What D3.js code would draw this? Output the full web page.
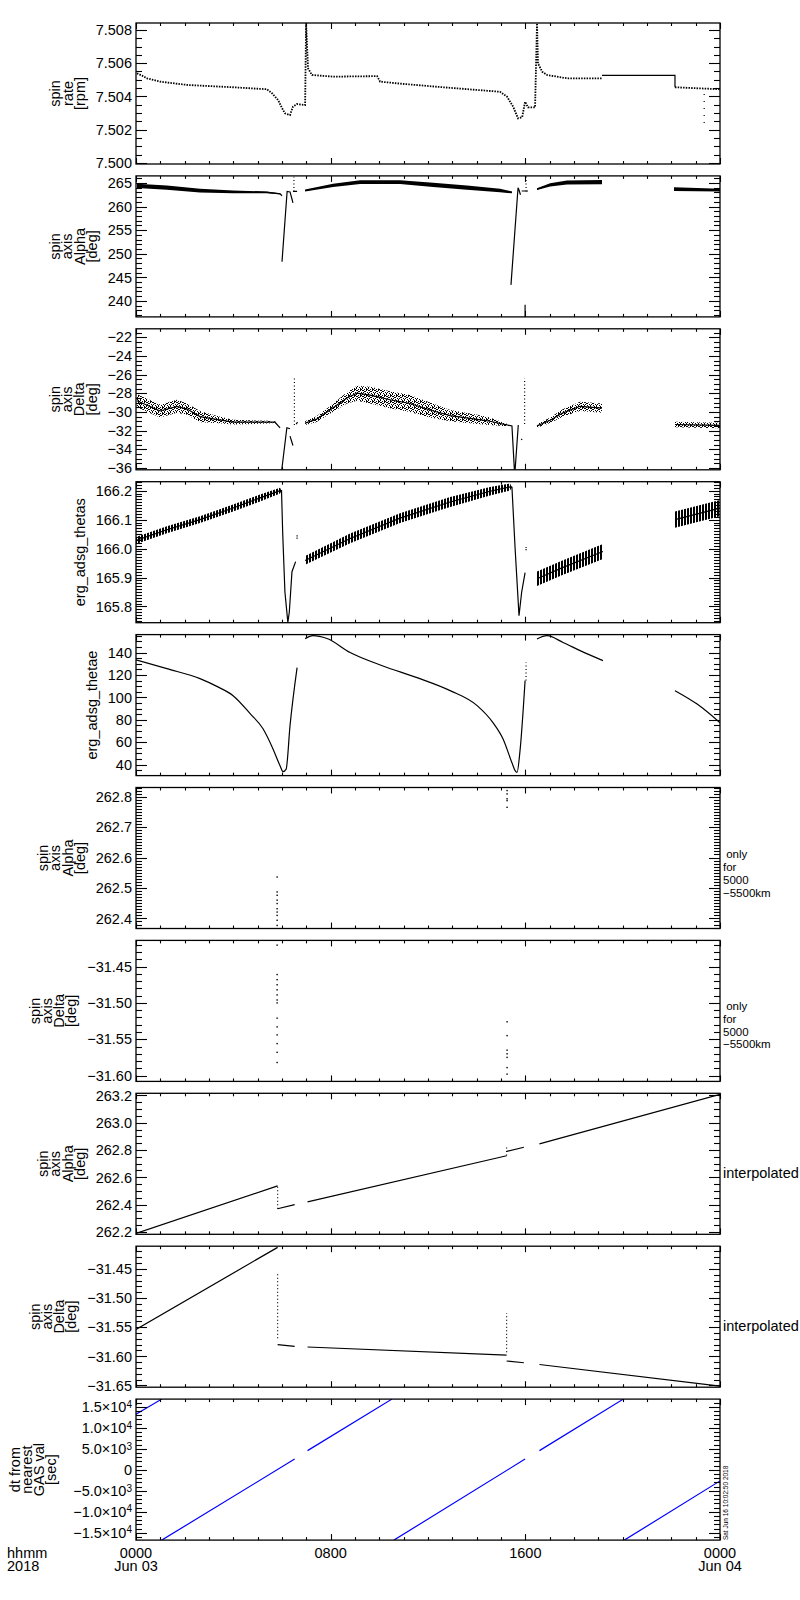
<!DOCTYPE html>
<html>
<head>
<meta charset="utf-8">
<script src="https://cdn.jsdelivr.net/npm/d3@7"></script>
<style>
  body { margin: 0; background: #fff; }
  svg { display: block; font-family: "Liberation Sans", Arial, sans-serif; }
</style>
</head>
<body>
<script>
// ---- time axis (hours since 2018-06-03 00:00) ----
const timeTicks  = [0, 8, 16, 24];
const timeLabels = ['0000', '0800', '1600', '0000'];
const dateLabels = ['Jun 03', '', '', 'Jun 04'];

// ---- panel 1: spin rate [rpm] ----
const spinRate = [[0.04,7.50539],[0.25,7.50525],[0.45,7.50509],[0.99,7.50489],[2.10,7.50469],[3.99,7.50455],
  [5.38,7.50443],[5.59,7.50419],[5.84,7.50378],[6.00,7.50330],[6.12,7.50298],[6.33,7.50288],[6.45,7.50338],
  [6.62,7.50354],[6.95,7.50348],[6.99,7.50840],[7.07,7.50569],[7.23,7.50529],[8.10,7.50519],[9.91,7.50522],
  [10.03,7.50489],[10.85,7.50477],[12.62,7.50455],[14.96,7.50428],[15.25,7.50398],[15.50,7.50338],
  [15.70,7.50268],[15.87,7.50275],[15.99,7.50368],[16.11,7.50334],[16.40,7.50334],[16.48,7.50840],
  [16.52,7.50599],[16.69,7.50549],[16.89,7.50529],[17.71,7.50509],[19.15,7.50509]];
const spinRateHold = [[19.15,7.50527],[22.15,7.50527],[22.15,7.50455]];
const spinRateLate = [[22.15,7.50455],[24.00,7.50443]];
const spinRateColumns = [[23.35,7.50240,7.50420]];

// ---- panel 2: spin axis alpha [deg]  (time, value, scatter half-width) ----
const spinAlpha = [[0.04,264.4,0.45],[1.27,264.0,0.45],[2.63,263.4,0.4],[3.99,263.1,0.3],[5.38,263.0,0.2],
  [5.92,262.7,0.1],[6.00,262.3,0],null,
  [6.00,248.3,0],[6.21,263.2,0],[6.33,263.1,0],[6.41,261.6,0],[6.45,260.8,0],null,
  [6.45,263.2,0],[6.62,263.2,0],null,
  [6.95,263.4,0.2],[8.10,264.5,0.35],[9.21,265.2,0.4],[10.85,265.2,0.4],[12.21,264.6,0.45],[13.60,264.0,0.45],
  [14.96,263.4,0.35],[15.45,263.0,0.2],null,
  [15.41,243.4,0],[15.70,264.0,0],[15.74,263.5,0],[15.80,262.5,0],null,
  [15.85,263.3,0],[16.11,263.3,0],null,
  [15.99,239.2,0],[15.99,236.6,0],null,
  [16.48,263.7,0.2],[17.02,264.6,0.35],[17.71,265.1,0.4],[19.15,265.2,0.45],null,
  [22.11,263.7,0.4],[24.00,263.5,0.3]];
const spinAlphaColumns = [[6.49,263.2,266.3],[16.03,263.2,266.5]];

// ---- panel 3: spin axis delta [deg] ----
const spinDelta = [[0.04,-28.8,0.7],[0.99,-29.9,0.7],[1.68,-29.4,0.7],[2.10,-29.7,0.6],[2.63,-30.5,0.6],
  [3.30,-30.8,0.4],[3.99,-31.1,0.25],[5.43,-31.1,0.15],[5.71,-31.1,0.1],[5.92,-31.7,0],null,
  [5.99,-36.2,0],[6.20,-31.7,0],[6.33,-31.8,0],null,
  [6.33,-32.6,0],[6.45,-33.6,0],null,
  [6.58,-31.3,0],[6.64,-31.1,0],null,
  [6.95,-31.2,0.2],[7.40,-30.8,0.3],[7.97,-29.8,0.4],[8.67,-28.5,0.6],[9.08,-28.0,0.8],[9.62,-28.2,0.9],
  [10.44,-28.7,0.9],[11.26,-29.1,0.9],[12.08,-29.8,0.8],[12.91,-30.4,0.6],[14.02,-30.8,0.5],[14.55,-31.0,0.4],
  [15.08,-31.3,0.2],[15.45,-31.5,0],[15.55,-36.2,0],null,
  [15.58,-36.2,0],[15.71,-31.4,0],null,
  [15.83,-32.9,0],[15.87,-33.0,0],null,
  [16.48,-31.5,0.2],[17.02,-30.9,0.3],[17.55,-30.1,0.4],[18.25,-29.4,0.5],[19.15,-29.6,0.5],null,
  [22.15,-31.35,0.3],[24.00,-31.45,0.3]];
const spinDeltaColumns = [[6.51,-31.4,-26.2],[15.97,-31.3,-26.4]];

// ---- panel 4: erg_adsg_thetas ----
const thetaS = [[0.00,166.028,0.012],[1.27,166.065,0.012],[2.63,166.100,0.012],[3.99,166.140,0.012],
  [5.10,166.175,0.012],[5.92,166.200,0.01],[5.98,166.200,0],[6.03,166.05,0],[6.12,165.85,0],[6.24,165.745,0],
  [6.30,165.78,0],[6.41,165.92,0],[6.56,165.955,0],null,
  [6.95,165.959,0.015],[8.80,166.035,0.017],[10.85,166.105,0.017],[12.91,166.161,0.017],[14.55,166.198,0.015],
  [15.37,166.213,0.012],[15.45,166.212,0],[15.58,166.00,0],[15.74,165.768,0],[15.85,165.85,0],[15.99,165.917,0],null,
  [16.48,165.896,0.025],[17.55,165.935,0.025],[19.19,165.990,0.026],null,
  [22.15,166.100,0.028],[24.00,166.140,0.028]];
const thetaSColumns = [[6.62,166.034,166.046],[16.03,165.994,166.006]];

// ---- panel 5: erg_adsg_thetae ----
const thetaE = [[0.00,133.5],[1.27,125.6],[2.63,116.7],[3.30,110.0],[3.99,101.5],[4.69,85.5],[5.22,72.0],
  [5.63,54.0],[5.92,39.0],[6.04,33.7],[6.17,36.0],[6.33,74.8],[6.62,126.5],null,
  [6.95,152.4],[7.27,155.1],[7.85,152.5],[8.80,140.0],[10.15,128.0],[11.55,117.6],[12.91,106.0],[14.02,92.6],
  [14.67,77.4],[15.08,63.0],[15.45,41.7],[15.58,34.6],[15.66,33.0],[15.78,52.0],[15.99,115.0],null,
  [16.48,152.0],[16.89,155.0],[17.55,149.0],[18.25,141.7],[19.19,132.8],null,
  [22.15,106.0],[23.06,94.0],[24.00,77.4]];
const thetaEColumns = [[16.03,115,131]];

// ---- panel 6: spin axis alpha, only for 5000-5500km ----
const onlyAlphaDots = [[5.80,262.536],[5.80,262.487],[5.80,262.476],[5.80,262.460],[5.80,262.449],[5.80,262.432],
  [5.80,262.421],[5.80,262.410],[5.80,262.394],[5.80,262.377],
  [15.25,262.820],[15.25,262.809],[15.25,262.793],[15.25,262.787],[15.25,262.765]];

// ---- panel 7: spin axis delta, only for 5000-5500km ----
const onlyDeltaDots = [[5.80,-31.4205],[5.80,-31.461],[5.80,-31.468],[5.80,-31.475],[5.80,-31.482],[5.80,-31.489],
  [5.80,-31.496],[5.80,-31.500],[5.80,-31.521],[5.80,-31.533],[5.80,-31.544],[5.80,-31.556],[5.80,-31.568],
  [5.80,-31.582],[15.25,-31.526],[15.25,-31.545],[15.25,-31.565],[15.25,-31.570],[15.25,-31.575],
  [15.25,-31.589],[15.25,-31.598]];

// ---- panel 8: spin axis alpha, interpolated ----
const interpAlpha = [[0.00,262.19],[5.82,262.537],null,[5.82,262.37],[6.52,262.40],null,[7.05,262.42],
  [15.23,262.758],null,[15.23,262.79],[15.94,262.82],null,[16.58,262.845],[24.00,263.207]];
const interpAlphaColumns = [[5.82,262.37,262.537],[15.23,262.76,262.83]];

// ---- panel 9: spin axis delta, interpolated ----
const interpDelta = [[0.00,-31.554],[5.82,-31.413],null,[5.82,-31.580],[6.52,-31.583],null,[7.05,-31.584],
  [15.23,-31.598],null,[15.23,-31.608],[15.94,-31.611],null,[16.58,-31.614],[24.00,-31.651]];
const interpDeltaColumns = [[5.82,-31.569,-31.457],[15.23,-31.593,-31.526]];

// ---- panel 10: dt from nearest GAS val [sec] ----
const gasDt = [[0.00,13240],[1.06,16850],null,[1.06,-16750],[6.52,2570],null,[7.05,4570],[10.52,16850],null,
  [10.60,-16750],[15.99,2570],null,[16.58,4570],[20.03,16850],null,[20.07,-16750],[24.00,-2640]];

const plotDate = 'Sat Jun 16 10:02:50 2018';

// ---- layout ----
const width = 800, height = 1600;
const plotLeft = 136, plotRight = 720;
const firstTop = 23, pitch = 152.9, panelH = 141;
const fontSize = 14.5;

const fmtSci = v => {
  if (v === 0) return ['0', null];
  const e = Math.floor(Math.log10(Math.abs(v)));
  const m = v / Math.pow(10, e);
  return [(m < 0 ? '\u2212' : '') + Math.abs(m).toFixed(1) + '\u00d710', String(e)];
};

const panels = [
  { title: ['spin', 'rate', '[rpm]'], domain: [7.49993, 7.50842], major: 0.002, minor: 0.0005, fmt: d3.format('.3f'),
    series: [{ data: spinRate, kind: 'dotted' }, { data: spinRateHold, kind: 'line' }, { data: spinRateLate, kind: 'dotted' }],
    columns: spinRateColumns, columnDash: '1,6' },
  { title: ['spin', 'axis', 'Alpha', '[deg]'], domain: [236.6, 266.5], major: 5, minor: 1, fmt: d3.format('d'),
    series: [{ data: spinAlpha, kind: 'band', fill: '#000' }], columns: spinAlphaColumns },
  { title: ['spin', 'axis', 'Delta', '[deg]'], domain: [-36.2, -21.1], major: 2, minor: 0.5, fmt: d3.format('d'),
    series: [{ data: spinDelta, kind: 'band', fill: 'url(#speck)' }], columns: spinDeltaColumns },
  { title: ['erg_adsg_thetas'], domain: [165.744, 166.231], major: 0.1, minor: 0.01, fmt: d3.format('.1f'),
    series: [{ data: thetaS, kind: 'band', fill: 'url(#hatch)' }], columns: thetaSColumns, columnDash: '1.2,1' },
  { title: ['erg_adsg_thetae'], domain: [30.2, 156], major: 20, minor: 5, fmt: d3.format('d'),
    series: [{ data: thetaE, kind: 'curve' }], columns: thetaEColumns },
  { title: ['spin', 'axis', 'Alpha', '[deg]'], domain: [262.367, 262.83], major: 0.1, minor: 0.01, fmt: d3.format('.1f'),
    dots: onlyAlphaDots, note: [' only', 'for', '5000', '\u22125500km'], noteDy: -4 },
  { title: ['spin', 'axis', 'Delta', '[deg]'], domain: [-31.608, -31.414], major: 0.05, minor: 0.01, fmt: d3.format('.2f'),
    dots: onlyDeltaDots, note: [' only', 'for', '5000', '\u22125500km'], noteDy: -5 },
  { title: ['spin', 'axis', 'Alpha', '[deg]'], domain: [262.183, 263.215], major: 0.2, minor: 0.05, fmt: d3.format('.1f'),
    series: [{ data: interpAlpha, kind: 'line' }], columns: interpAlphaColumns, note: ['interpolated'], noteDy: 9 },
  { title: ['spin', 'axis', 'Delta', '[deg]'], domain: [-31.653, -31.411], major: 0.05, minor: 0.01, fmt: d3.format('.2f'),
    series: [{ data: interpDelta, kind: 'line' }], columns: interpDeltaColumns, note: ['interpolated'], noteDy: 9 },
  { title: ['dt from', 'nearest', 'GAS val', '[sec]'], domain: [-16750, 16850], major: 5000, minor: 1000, sci: true,
    series: [{ data: gasDt, kind: 'line', color: '#0000ff' }], titleGap: 22 }
];

const svg = d3.select('body').append('svg')
  .attr('width', width)
  .attr('height', height)
  .style('font-size', fontSize + 'px');

svg.append('rect').attr('width', width).attr('height', height).attr('fill', '#fff');

// fill textures for the scattered bands
const defs = svg.append('defs');
const hatch = defs.append('pattern').attr('id', 'hatch')
  .attr('patternUnits', 'userSpaceOnUse').attr('width', 3).attr('height', 4);
hatch.append('rect').attr('width', 2).attr('height', 4).attr('fill', '#000');

const speck = defs.append('pattern').attr('id', 'speck')
  .attr('patternUnits', 'userSpaceOnUse').attr('width', 6).attr('height', 6);
[[0,0],[2,0],[4,1],[1,2],[3,2],[5,3],[0,4],[2,4],[4,5],[1,5],[3,0],[5,1],[2,3],[0,5]].forEach(p => {
  speck.append('rect').attr('x', p[0]).attr('y', p[1]).attr('width', 1).attr('height', 1).attr('fill', '#000');
});

const x = d3.scaleLinear().domain([0, 24]).range([plotLeft, plotRight]);

function tickValues(domain, step) {
  const lo = Math.ceil(domain[0] / step - 1e-6), hi = Math.floor(domain[1] / step + 1e-6);
  return d3.range(lo, hi + 1).map(k => +(k * step).toFixed(6));
}

panels.forEach((p, i) => {
  const top = firstTop + i * pitch, bottom = top + panelH;
  const y = d3.scaleLinear().domain(p.domain).range([bottom, top]);
  const g = svg.append('g').attr('class', 'panel');

  const clipId = 'clip' + i;
  defs.append('clipPath').attr('id', clipId)
    .append('rect').attr('x', plotLeft).attr('y', top).attr('width', plotRight - plotLeft).attr('height', panelH);
  const plot = g.append('g').attr('clip-path', `url(#${clipId})`);

  const line = d3.line().defined(d => d !== null).x(d => x(d[0])).y(d => y(d[1]));
  const area = d3.area().defined(d => d !== null).x(d => x(d[0]))
    .y0(d => y(d[1] - d[2])).y1(d => y(d[1] + d[2]));

  (p.series || []).forEach(s => {
    const color = s.color || '#000';
    if (s.kind === 'band') {
      plot.append('path').datum(s.data).attr('d', area).attr('fill', s.fill).attr('stroke', 'none');
    }
    const path = plot.append('path').datum(s.data)
      .attr('d', s.kind === 'curve' ? line.curve(d3.curveMonotoneX) : line.curve(d3.curveLinear))
      .attr('fill', 'none').attr('stroke', color).attr('stroke-width', 1.2);
    if (s.kind === 'dotted') path.attr('stroke-width', 1.8).attr('stroke-dasharray', '1.5,1.2');
  });

  (p.columns || []).forEach(c => {
    plot.append('line')
      .attr('x1', x(c[0])).attr('x2', x(c[0]))
      .attr('y1', y(c[1])).attr('y2', y(c[2]))
      .attr('stroke', '#000').attr('stroke-width', 1.2)
      .attr('stroke-dasharray', p.columnDash || '1,2.5');
  });

  if (p.dots) {
    plot.selectAll('rect.dot').data(p.dots).enter().append('rect')
      .attr('class', 'dot')
      .attr('x', d => x(d[0]) - 0.7).attr('y', d => y(d[1]) - 0.7)
      .attr('width', 1.4).attr('height', 1.4).attr('fill', '#000');
  }

  // frame
  g.append('rect').attr('x', plotLeft).attr('y', top)
    .attr('width', plotRight - plotLeft).attr('height', panelH)
    .attr('fill', 'none').attr('stroke', '#000').attr('stroke-width', 1.3);

  // y ticks (inward, both sides)
  const majors = tickValues(p.domain, p.major);
  const minors = tickValues(p.domain, p.minor);
  const ticks = g.append('g').attr('stroke', '#000').attr('stroke-width', 1.1);
  minors.forEach(v => {
    const isMajor = majors.some(m => Math.abs(m - v) < p.minor * 0.01);
    const len = isMajor ? 11 : 6;
    const yy = Math.round(y(v)) + 0.5;
    ticks.append('line').attr('x1', plotLeft).attr('x2', plotLeft + len).attr('y1', yy).attr('y2', yy);
    ticks.append('line').attr('x1', plotRight).attr('x2', plotRight - len).attr('y1', yy).attr('y2', yy);
  });

  // x ticks (inward, top and bottom)
  d3.range(0, 25).forEach(h => {
    const len = timeTicks.includes(h) ? 6 : 3;
    const xx = Math.round(x(h)) + 0.5;
    ticks.append('line').attr('x1', xx).attr('x2', xx).attr('y1', top).attr('y2', top + len);
    ticks.append('line').attr('x1', xx).attr('x2', xx).attr('y1', bottom).attr('y2', bottom - len);
  });

  // y tick labels
  const labels = g.append('g').attr('text-anchor', 'end');
  majors.forEach(v => {
    const t = labels.append('text').attr('x', plotLeft - 4).attr('y', y(v)).attr('dy', '0.36em');
    if (p.sci) {
      const [m, e] = fmtSci(v);
      t.append('tspan').text(m);
      if (e !== null) t.append('tspan').attr('dy', '-0.45em').style('font-size', '10px').text(e);
    } else {
      t.text(p.fmt(v));
    }
  });

  // y title: rotated lines, right-most line just left of the tick labels
  const lb = labels.node().getBBox();
  const lastCol = lb.x - (p.titleGap || 16);
  const mid = (top + bottom) / 2;
  const n = p.title.length;
  p.title.forEach((s, j) => {
    const cx = lastCol - (n - 1 - j) * 12.3;
    g.append('text')
      .attr('transform', `translate(${cx},${mid}) rotate(-90)`)
      .attr('text-anchor', 'middle').attr('dy', '0.36em')
      .text(s);
  });

  // right-hand notes
  (p.note || []).forEach((s, k) => {
    g.append('text')
      .attr('x', plotRight + 3).attr('y', mid + p.noteDy + k * 12.8).attr('dy', '0.36em')
      .style('white-space', 'pre')
      .style('font-size', p.note.length > 1 ? '11.5px' : fontSize + 'px')
      .text(s);
  });

  // bottom time axis labels
  if (i === panels.length - 1) {
    timeTicks.forEach((h, k) => {
      g.append('text').attr('x', x(h)).attr('y', bottom + 18).attr('text-anchor', 'middle').text(timeLabels[k]);
      if (dateLabels[k]) g.append('text').attr('x', x(h)).attr('y', bottom + 31).attr('text-anchor', 'middle').text(dateLabels[k]);
    });
    g.append('text').attr('x', 7).attr('y', bottom + 18).text('hhmm');
    g.append('text').attr('x', 7).attr('y', bottom + 31).text('2018');
    g.append('text')
      .attr('transform', `translate(${plotRight + 8},${bottom}) rotate(-90)`)
      .style('font-size', '6.5px')
      .text(plotDate);
  }
});
</script>
</body>
</html>
